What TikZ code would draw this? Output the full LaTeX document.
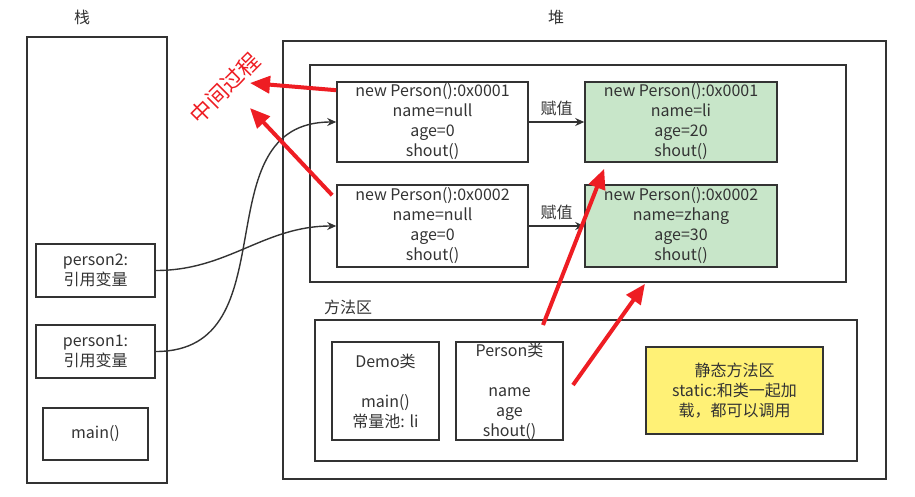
\documentclass[tikz,border=0pt]{standalone}
\usepackage{fontspec}
\setmainfont{Noto Sans CJK SC}
\usetikzlibrary{positioning, arrows.meta}
\definecolor{linegray}{HTML}{333333}
\definecolor{objgreen}{HTML}{C8E6C9}
\definecolor{statyellow}{HTML}{FFF176}
\definecolor{markred}{HTML}{EE1D23}
\newcommand{\boxfont}{\fontsize{16}{20}\selectfont}

\begin{document}
\begin{tikzpicture}[x=1pt, y=-1pt,
                  box/.style={draw=linegray, line width=1.6pt, inner sep=0pt, align=center,
                              font=\boxfont, text=linegray},
                  lbl/.style={font=\boxfont, text=linegray},
                  link/.style={draw=linegray, line width=1.4pt, -{Stealth[length=9pt, width=8pt]}},
                  marker/.style={draw=markred, line width=4pt, -{Triangle[length=20pt, width=17pt]}},
            ]
            \useasboundingbox (0,0) rectangle (915,496);

            % Stack
            \node[lbl] (stacklbl) at (82,17) {栈};
            \node[box, minimum width=140, minimum height=446] (stack) at (97,260) {};
            \node[box, minimum width=119, minimum height=53] (p2) at (95.5,270.5) {person2:\\引用变量};
            \node[box, minimum width=119, minimum height=53] (p1) at (95.5,351.5) {person1:\\引用变量};
            \node[box, minimum width=105, minimum height=52] (mainfn) at (95.5,434) {main()};

            % Heap
            \node[lbl] (heaplbl) at (556,17) {堆};
            \node[box, minimum width=603, minimum height=438] (heap) at (584.5,260) {};
            \node[box, minimum width=536, minimum height=217] (objs) at (578,173.5) {};

            % Objects before and after assignment
            \foreach \i/\y/\h/\nm/\ag in {1/122/80/li/20, 2/226/82/zhang/30}{
                  \node[box, minimum width=191, minimum height=\h] (a\i) at (432.5,\y)
                  {new Person():0x000\i\\name=null\\age=0\\shout()};
                  \node[box, fill=objgreen, minimum width=192, minimum height=\h] (b\i) at (681,\y)
                  {new Person():0x000\i\\name=\nm\\age=\ag\\shout()};
                  \draw[link] (a\i) -- node[lbl, above=2pt] {赋值} (b\i);
            }

            % Method area
            \node[lbl] (methlbl) at (348,307) {方法区};
            \node[box, minimum width=542, minimum height=141] (meth) at (586,390.5) {};
            \node[box, minimum width=107, minimum height=98] (demo) at (385.5,391)
            {Demo类\\[20pt]main()\\常量池: li};
            \node[box, minimum width=107, minimum height=98] (pcls) at (509.5,391)
            {Person类\\[20pt]name\\age\\shout()};
            \node[box, fill=statyellow, minimum width=177, minimum height=87] (stat) at (734.5,390.5)
            {静态方法区\\static:和类一起加\\载，都可以调用};

            % References from stack to heap
            \draw[link] (p2.east) to[out=0, in=180] (a2.west);
            \draw[link] (p1.east) to[out=0, in=180, looseness=1.2] (a1.west);

            % Red markers
            \node[font=\fontsize{22}{24}\selectfont, text=markred, rotate=45] (mid) at (225,88) {中间过程};
            \coordinate (m1) at (250,83);
            \coordinate (m2) at (250,108);
            \coordinate (s3) at (543,325);
            \coordinate (s4) at (573,385);
            \draw[marker] ([yshift=-9]a1.north west) -- (m1);
            \draw[marker] ([xshift=-4, yshift=-11]a2.north west) -- (m2);
            \draw[marker] (s3) -- ([xshift=20, yshift=-6]b1.south west);
            \draw[marker] (s4) -- ([xshift=-36, yshift=-16]b2.south);
      \end{tikzpicture}
\end{document}
